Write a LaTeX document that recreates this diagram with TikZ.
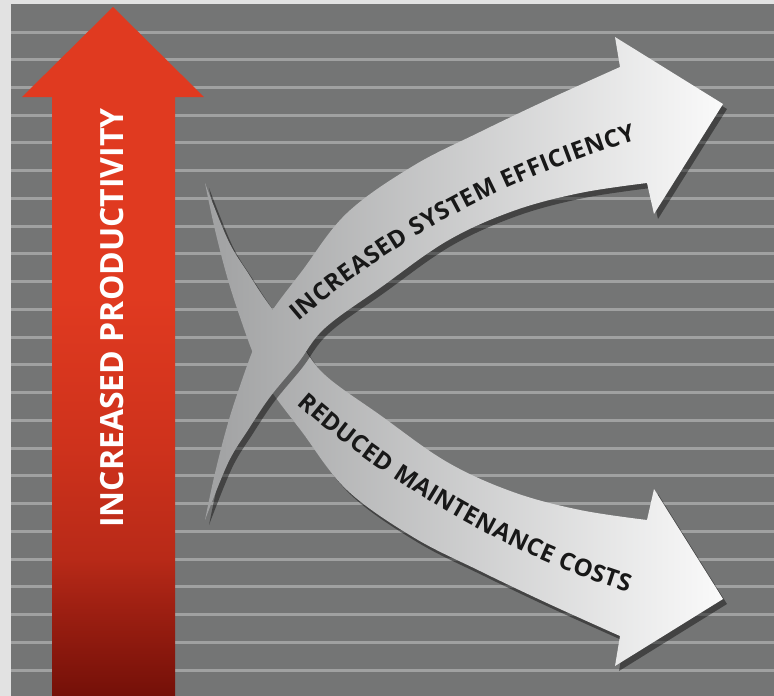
\documentclass[tikz,border=0pt]{standalone}
\usepackage{fontspec}
\setmainfont{Open Sans}
\usetikzlibrary{decorations.text}

\definecolor{edgegray}{RGB}{226,226,226}
\definecolor{panelgray}{RGB}{116,117,117}
\definecolor{linegray}{RGB}{160,161,161}
\definecolor{bandleft}{RGB}{160,161,162}
\definecolor{bandright}{RGB}{250,250,250}
\definecolor{bandtext}{RGB}{24,24,24}
\definecolor{rd0}{RGB}{116,16,8}
\definecolor{rd1}{RGB}{162,33,19}
\definecolor{rd2}{RGB}{184,42,24}
\definecolor{rd3}{RGB}{206,50,28}
\definecolor{rd4}{RGB}{224,58,32}

\pgfdeclareverticalshading{redshaft}{100bp}{color(0bp)=(rd0); color(25bp)=(rd0); color(32bp)=(rd1); color(35bp)=(rd2); color(43bp)=(rd3); color(54bp)=(rd4); color(100bp)=(rd4)}

\tikzstyle{bgline} = [draw=linegray, line width=3pt]
\tikzstyle{band} = [left color=bandleft, right color=bandright]
\tikzstyle{bandshadow} = [fill=black, opacity=0.42]
\tikzstyle{uplabel} = [text=white, font=\fontsize{32}{35}\selectfont\bfseries, rotate=90, inner sep=0pt]

\newcommand\bandfont{\fontsize{24}{27}\selectfont\bfseries\color{bandtext}}
% one curved arrow, the other one is its mirror image
\newcommand\effarrow{plot[smooth, tension=0.6] coordinates {(205,520) (215,473) (228,423) (242,380) (255,345) (270,314) (302,271) (347,213) (413,166) (480,132) (547,100) (620,67)} -- (615,37) -- (723,104) -- (654,214) -- (647,183) -- plot[smooth, tension=0.6] coordinates {(647,183) (580,193) (513,211) (447,241) (380,288) (325,328) (298,363) (270,397) (248,430) (228,463) (205,520)} -- cycle}

\begin{document}
\begin{tikzpicture}[x=1pt, y=-1pt]
	\useasboundingbox (0,0) rectangle (774,696);
	
	% Background
	\fill[edgegray] (0,0) rectangle (774,696);
	\fill[panelgray] (11,4) rectangle (774,696);
	\foreach \i in {0,...,23}
		\draw[bgline] (11,{32+27.74*\i}) -- (774,{32+27.74*\i});
	
	% Productivity arrow
	\path[shading=redshaft] (113,7) -- (204,97) -- (175,97) -- (175,696) -- (52,696) -- (52,97) -- (22,97) -- cycle;
	\node (productivity) [uplabel] at (112,318) {INCREASED PRODUCTIVITY};
	
	% Maintenance arrow (mirrored)
	\begin{scope}[shift={(4,708)}, yscale=-1]
		\fill[bandshadow] \effarrow;
	\end{scope}
	\begin{scope}[shift={(0,703)}, yscale=-1]
		\shade[band] \effarrow;
	\end{scope}
	
	% Efficiency arrow
	\begin{scope}[shift={(4,5)}]
		\fill[bandshadow] \effarrow;
	\end{scope}
	\shade[band] \effarrow;
	
	% Labels along the arrows
	\path[decorate, decoration={text along path, text align=fit to path, text={|\bandfont|INCREASED SYSTEM EFFICIENCY}}] (298,322) .. controls (404,232) and (511,178) .. (636,140);
	\path[decorate, decoration={text along path, text align=fit to path, text={|\bandfont|REDUCED MAINTENANCE COSTS}}] (297,404) .. controls (388,484) and (512,557) .. (628,592);
	
\end{tikzpicture}
\end{document}
